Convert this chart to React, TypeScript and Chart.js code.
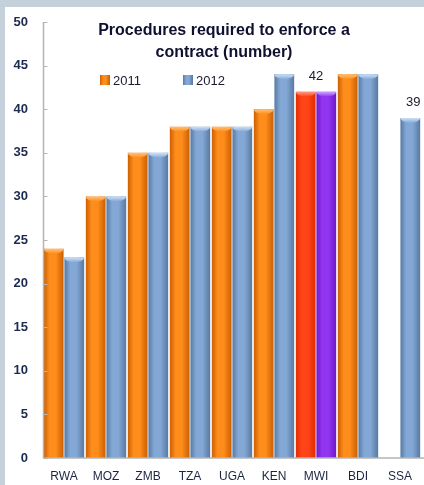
import React, { useEffect, useRef } from "react";
import { Chart, registerables } from "chart.js";

Chart.register(...registerables);

const categories = ["RWA", "MOZ", "ZMB", "TZA", "UGA", "KEN", "MWI", "BDI", "SSA"];
const values2011: (number | null)[] = [24, 30, 35, 38, 38, 40, 42, 44, null];
const values2012: (number | null)[] = [23, 30, 35, 38, 38, 44, 42, 44, 39];
const seriesNames = ["2011", "2012"];
const labelledCategories = ["MWI", "SSA"];
const labelledValues = [42, 39];
const titleLines = ["Procedures required to enforce a", "contract (number)"];
const highlightCategory = "MWI";

const CAT_PCT = 0.98;
const BAR_PCT = 0.96;

type Palette = { dark: string; light: string; cap: string };
const seriesPalettes: Palette[] = [
  { dark: "#c85c00", light: "#ff8d1c", cap: "#ffc27a" },
  { dark: "#55779f", light: "#84a8d6", cap: "#cfe2f7" },
];
const highlightPalettes: Palette[] = [
  { dark: "#e02a00", light: "#ff4418", cap: "#ff9a80" },
  { dark: "#6c18c8", light: "#9235f0", cap: "#cfa4ff" },
];

function paletteFor(ds: number, idx: number): Palette {
  return categories[idx] === highlightCategory ? highlightPalettes[ds] : seriesPalettes[ds];
}

function makeGrad(c: CanvasRenderingContext2D, x0: number, x1: number, p: Palette) {
  const g = c.createLinearGradient(x0, 0, x1, 0);
  g.addColorStop(0, p.dark);
  g.addColorStop(0.3, p.light);
  g.addColorStop(0.6, p.light);
  g.addColorStop(1, p.dark);
  return g;
}

function barBg(ds: number) {
  return (ctx: any) => {
    const chart = ctx.chart;
    const p = paletteFor(ds, ctx.dataIndex ?? 0);
    const xs = chart.scales?.x;
    if (!xs || !chart.chartArea || ctx.dataIndex == null) return p.light;
    const center = xs.getPixelForValue(ctx.dataIndex);
    const catW = xs.width / categories.length;
    const half = (catW * CAT_PCT) / 2;
    const left = center - half + ds * half;
    return makeGrad(chart.ctx, left, left + half, p);
  };
}

const decorPlugin = {
  id: "decor",
  afterDatasetsDraw(chart: any) {
    const c: CanvasRenderingContext2D = chart.ctx;
    const area = chart.chartArea;
    const ys = chart.scales.y;
    // bar caps
    chart.data.datasets.forEach((_: any, ds: number) => {
      const meta = chart.getDatasetMeta(ds);
      meta.data.forEach((el: any, i: number) => {
        const v = chart.data.datasets[ds].data[i];
        if (v == null) return;
        const p = paletteFor(ds, i);
        const w = el.width;
        c.save();
        c.beginPath();
        c.rect(el.x - w / 2, el.y, w, 8);
        c.clip();
        c.beginPath();
        c.ellipse(el.x, el.y, w / 2, 5, 0, 0, Math.PI);
        c.closePath();
        const g = c.createLinearGradient(0, el.y, 0, el.y + 5);
        g.addColorStop(0, p.cap);
        g.addColorStop(1, p.light);
        c.fillStyle = g;
        c.fill();
        c.restore();
      });
    });
    // axis lines and inside ticks
    c.save();
    c.strokeStyle = "#b4b4b4";
    c.lineWidth = 1.5;
    const ax = Math.round(area.left) + 0.5;
    c.beginPath();
    c.moveTo(ax, area.top);
    c.lineTo(ax, area.bottom);
    c.lineTo(area.right + 10, area.bottom);
    c.stroke();
    c.lineWidth = 1;
    ys.ticks.forEach((t: any) => {
      const y = Math.round(ys.getPixelForValue(t.value)) + 0.5;
      c.beginPath();
      c.moveTo(ax, y);
      c.lineTo(ax + 4, y);
      c.stroke();
    });
    c.restore();
    // value labels
    c.save();
    c.font = "13px 'Liberation Sans', Arial, sans-serif";
    c.fillStyle = "#1a1a2e";
    c.textAlign = "center";
    c.textBaseline = "bottom";
    labelledCategories.forEach((cat, k) => {
      const idx = categories.indexOf(cat);
      const xsList: number[] = [];
      chart.data.datasets.forEach((d: any, ds: number) => {
        if (d.data[idx] != null) xsList.push(chart.getDatasetMeta(ds).data[idx].x);
      });
      const x = xsList.reduce((a, b) => a + b, 0) / xsList.length;
      const y = ys.getPixelForValue(labelledValues[k]) - 9;
      c.fillText(String(labelledValues[k]), x + (k === 1 ? 3 : 0), y);
    });
    c.restore();
    // title
    const cx = (area.left + area.right) / 2 - 8;
    c.save();
    c.font = "bold 16px 'Liberation Sans', Arial, sans-serif";
    c.fillStyle = "#0f1030";
    c.textAlign = "center";
    c.textBaseline = "middle";
    titleLines.forEach((line, i) => c.fillText(line, cx, area.top + 9 + i * 22));
    c.restore();
    // legend
    c.save();
    c.font = "13px 'Liberation Sans', Arial, sans-serif";
    c.fillStyle = "#1a1a2e";
    c.textBaseline = "middle";
    const ly = area.top + 58;
    const lx = [area.left + 57, area.left + 140];
    seriesNames.forEach((name, i) => {
      const p = seriesPalettes[i];
      c.fillStyle = makeGrad(c, lx[i], lx[i] + 10, p);
      c.fillRect(lx[i], ly - 5, 10, 10);
      c.fillStyle = "#1a1a2e";
      c.fillText(name, lx[i] + 13, ly + 1);
    });
    c.restore();
  },
};

export default function App() {
  const ref = useRef<HTMLCanvasElement>(null);
  useEffect(() => {
    document.body.style.margin = "0";
    const chart = new Chart(ref.current!, {
      type: "bar",
      data: {
        labels: categories,
        datasets: [
          {
            label: seriesNames[0],
            data: values2011,
            backgroundColor: barBg(0),
            categoryPercentage: CAT_PCT,
            barPercentage: BAR_PCT,
          },
          {
            label: seriesNames[1],
            data: values2012,
            backgroundColor: barBg(1),
            categoryPercentage: CAT_PCT,
            barPercentage: BAR_PCT,
          },
        ],
      },
      options: {
        animation: false,
        responsive: false,
        layout: { padding: { top: 15, right: 3, left: 0, bottom: 0 } },
        plugins: { legend: { display: false }, tooltip: { enabled: false }, title: { display: false } },
        scales: {
          x: {
            grid: { display: false, drawTicks: false },
            border: { display: false },
            ticks: {
              padding: 11,
              color: "#1c2540",
              font: { family: "'Liberation Sans', Arial, sans-serif", size: 12 },
            },
            afterFit: (s: any) => {
              s.height = 27;
              s.paddingLeft = 0;
              s.paddingRight = 0;
            },
          },
          y: {
            min: 0,
            max: 50,
            grid: { display: false, drawTicks: false },
            border: { display: false },
            ticks: {
              stepSize: 5,
              padding: 15,
              color: "#1c2a50",
              font: { family: "'Liberation Sans', Arial, sans-serif", size: 13, weight: "bold" },
            },
            afterFit: (s: any) => {
              s.width = 38;
              s.paddingTop = 0;
              s.paddingBottom = 0;
            },
          },
        },
      },
      plugins: [decorPlugin],
    });
    return () => chart.destroy();
  }, []);
  return (
    <div style={{ width: 424, height: 485, background: "#c4d0da", boxSizing: "border-box", paddingTop: 7, paddingLeft: 5, overflow: "hidden" }}>
      <canvas ref={ref} width={419} height={478} style={{ display: "block", background: "#ffffff" }} />
    </div>
  );
}
